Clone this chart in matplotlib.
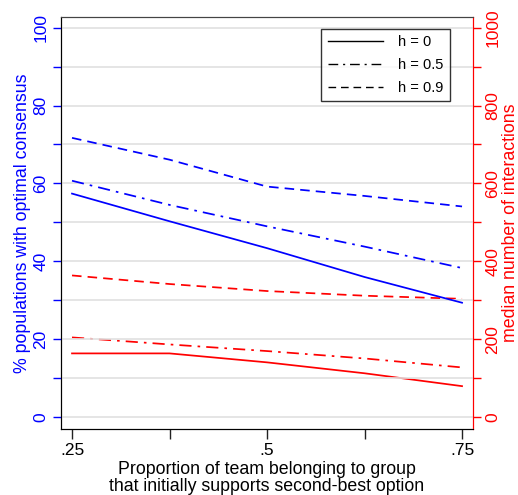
import matplotlib
matplotlib.use("Agg")
import matplotlib.pyplot as plt
from matplotlib.lines import Line2D

plt.rcParams['font.family'] = ['Liberation Sans', 'DejaVu Sans']

# proportion of team supporting second-best option
x = [0.25, 0.375, 0.5, 0.625, 0.75]

# % populations with optimal consensus (left axis)
consensus_h0 = [57.4, 50.3, 43.4, 36.0, 29.4]
consensus_h05 = [60.7, 54.5, 49.0, 43.8, 38.3]
consensus_h09 = [71.7, 66.1, 59.2, 56.8, 54.1]

# median number of interactions (right axis)
interactions_h0 = [164, 164, 141, 113, 80]
interactions_h05 = [205, 187, 170, 151, 128]
interactions_h09 = [364, 342, 324, 312, 304]

h_labels = ["h = 0", "h = 0.5", "h = 0.9"]

blue = "#0000ff"
red = "#ff0000"
dashdot = (0, (7, 3.5, 1.5, 3.5))
dashed = (0, (5.5, 3.5))
styles = ["-", dashdot, dashed]

fig = plt.figure(figsize=(5.18, 4.95), dpi=100)
ax = fig.add_axes([0.1178, 0.1333, 0.7954, 0.8323])
ax2 = ax.twinx()

for y, ls in zip([consensus_h0, consensus_h05, consensus_h09], styles):
    ax.plot(x, y, color=blue, linestyle=ls, linewidth=1.25, zorder=3)
for y, ls in zip([interactions_h0, interactions_h05, interactions_h09], styles):
    ax2.plot(x, y, color=red, linestyle=ls, linewidth=1.25, zorder=3)

ax.set_xlim(0.2359, 0.7641)
ax.set_ylim(-3.0, 102.7)
ax2.set_ylim(-30, 1027)

ax.set_xticks([0.25, 0.375, 0.5, 0.625, 0.75])
ax.set_xticklabels([".25", "", ".5", "", ".75"], fontsize=12.5)
ax.tick_params(axis='x', length=7, width=1, color="#222222", pad=3)

ax.set_yticks([0, 20, 40, 60, 80, 100])
ax.set_yticks([10, 30, 50, 70, 90], minor=True)
ax.set_yticklabels(["0", "20", "40", "60", "80", "100"], fontsize=12.5,
                   rotation=90, va="center", color=blue)
ax.tick_params(axis='y', which='both', length=6, width=1, color=blue, pad=3)

ax2.set_yticks([0, 200, 400, 600, 800, 1000])
ax2.set_yticks([100, 300, 500, 700, 900], minor=True)
ax2.set_yticklabels(["0", "200", "400", "600", "800", "1000"], fontsize=12.5,
                    rotation=90, va="center", color=red)
ax2.tick_params(axis='y', which='both', length=6, width=1, color=red, pad=3)

# gridlines every 10 units
for g in range(0, 101, 10):
    ax.axhline(g, color="#e0e0e0", linewidth=1.2, zorder=0)

ax.set_xlabel("Proportion of team belonging to group\nthat initially supports second-best option",
              fontsize=12.8, linespacing=1.0, labelpad=2)
ax.set_ylabel("% populations with optimal consensus", fontsize=12.8, color=blue, labelpad=2)
ax2.set_ylabel("median number of interactions", fontsize=12.8, color=red, labelpad=1)

for s in ["left", "bottom", "top"]:
    ax.spines[s].set_color("black")
    ax2.spines[s].set_color("black")
ax.spines["top"].set_color("#444444")
ax2.spines["top"].set_color("#444444")
ax2.spines["right"].set_color(red)
ax.spines["right"].set_color(red)

handles = [Line2D([0], [0], color="black", linestyle=ls, linewidth=1.0) for ls in styles]
leg = ax.legend(handles, h_labels, loc="upper right", bbox_to_anchor=(0.943, 0.972),
                fontsize=10.5, frameon=True, fancybox=False, handlelength=3.8,
                borderpad=0.45, labelspacing=0.6, handletextpad=1.0, borderaxespad=0)
leg.get_frame().set_edgecolor("black")
leg.get_frame().set_linewidth(1.0)
ax.set_zorder(ax2.get_zorder() + 1)
ax.patch.set_visible(False)

fig.savefig("out.png", dpi=100)
